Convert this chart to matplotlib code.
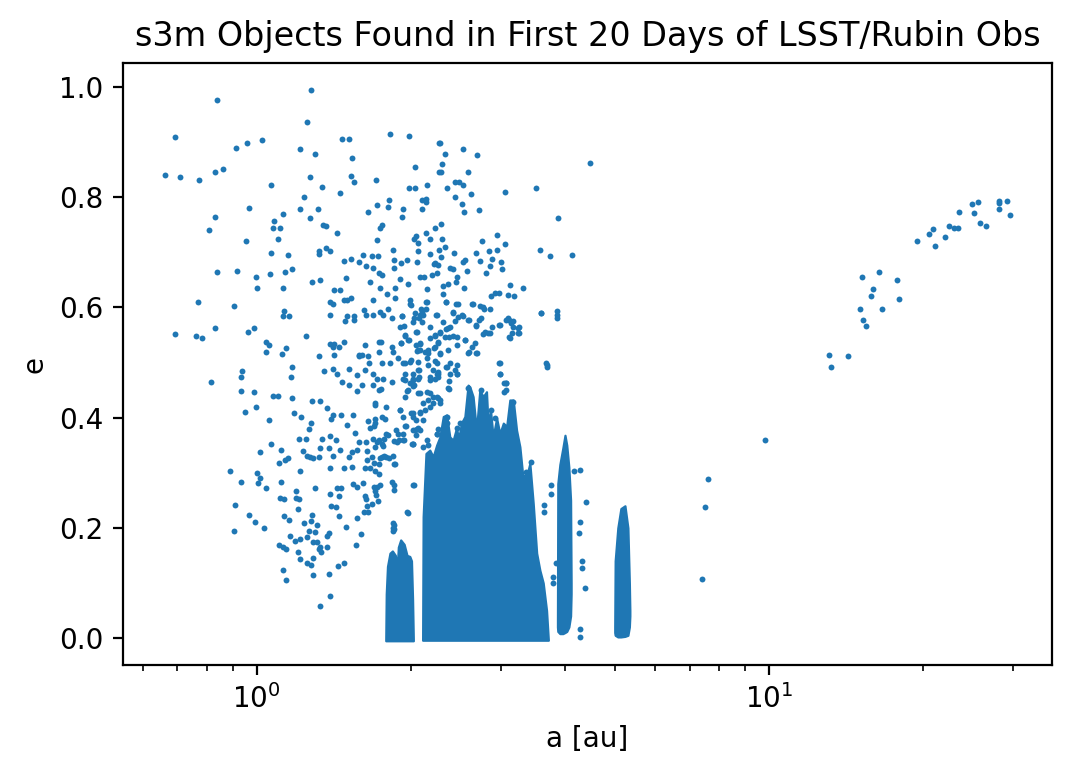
import matplotlib
matplotlib.use("Agg")
import matplotlib.pyplot as plt
import numpy as np

# ── Data (a [au], e) ─────────────────────────────────────────────────────────

# scattered objects: NEOs / Mars-crossers / high-e main belt
inner_pts = [
    (1.275, 0.994), (0.837, 0.976), (0.694, 0.909), (1.254, 0.936), (0.662, 0.840),
    (0.708, 0.836), (0.771, 0.831), (0.829, 0.845), (0.860, 0.852), (0.911, 0.890),
    (0.957, 0.898), (1.024, 0.903), (1.215, 0.887), (1.300, 0.878), (1.467, 0.905),
    (1.515, 0.905), (1.535, 0.871), (1.821, 0.914), (1.985, 0.911), (2.268, 0.898),
    (1.271, 0.836), (1.066, 0.822), (1.528, 0.838), (1.549, 0.827), (1.710, 0.832),
    (1.339, 0.818), (1.237, 0.800), (1.455, 0.807), (1.987, 0.816), (2.040, 0.816),
    (2.151, 0.822), (2.037, 0.854), (0.966, 0.780), (0.829, 0.765), (0.806, 0.740),
    (1.215, 0.778), (1.269, 0.763), (1.318, 0.778), (1.123, 0.769), (1.081, 0.756),
    (1.076, 0.745), (1.111, 0.744), (1.101, 0.724), (0.953, 0.720), (1.066, 0.698),
    (1.151, 0.695), (0.837, 0.664), (0.915, 0.667), (0.997, 0.656), (1.001, 0.636),
    (1.062, 0.660), (1.125, 0.635), (1.135, 0.664), (1.172, 0.669), (0.768, 0.609),
    (0.901, 0.602), (0.694, 0.551), (0.761, 0.549), (0.782, 0.544), (0.829, 0.562),
    (0.962, 0.555), (0.988, 0.562), (1.043, 0.537), (1.057, 0.531), (1.043, 0.519),
    (1.141, 0.526), (1.121, 0.515), (1.248, 0.549), (1.323, 0.511), (1.131, 0.593),
    (1.126, 0.584), (1.156, 0.584), (1.283, 0.646), (1.329, 0.649), (1.323, 0.702),
    (1.323, 0.697), (1.366, 0.707), (1.391, 0.702), (1.347, 0.749), (1.366, 0.747),
    (1.435, 0.735), (1.391, 0.609), (1.409, 0.606), (1.391, 0.586), (1.416, 0.631),
    (1.455, 0.631), (1.494, 0.653), (1.481, 0.685), (1.528, 0.687), (1.584, 0.682),
    (1.611, 0.695), (1.634, 0.676), (1.679, 0.693), (1.725, 0.693), (1.684, 0.671),
    (1.732, 0.662), (1.754, 0.659), (1.845, 0.705), (1.853, 0.686), (1.853, 0.671),
    (1.914, 0.680), (1.965, 0.686), (2.054, 0.682), (2.063, 0.702), (2.184, 0.697),
    (2.228, 0.680), (2.249, 0.662), (2.195, 0.659), (2.122, 0.655), (1.906, 0.651),
    (1.973, 0.642), (1.861, 0.635), (1.717, 0.722), (1.717, 0.786), (1.803, 0.782),
    (1.812, 0.795), (1.650, 0.774), (1.743, 0.745), (1.754, 0.750), (1.932, 0.778),
    (1.923, 0.765), (2.100, 0.778), (2.100, 0.795), (2.136, 0.796), (2.136, 0.791),
    (2.028, 0.725), (2.046, 0.729), (2.175, 0.725), (2.136, 0.735), (2.228, 0.744),
    (1.501, 0.613), (1.481, 0.613), (1.528, 0.617), (1.662, 0.646), (1.743, 0.635),
    (1.684, 0.613), (1.795, 0.624), (1.861, 0.617), (1.993, 0.613), (2.000, 0.604),
    (2.136, 0.609), (1.617, 0.595), (1.634, 0.587), (1.684, 0.586), (1.743, 0.591),
    (1.803, 0.597), (1.764, 0.586), (1.837, 0.580), (1.923, 0.584), (1.941, 0.566),
    (1.949, 0.548), (1.914, 0.535), (2.054, 0.555), (2.028, 0.580), (2.072, 0.580),
    (2.109, 0.587), (2.091, 0.597), (2.239, 0.586), (2.184, 0.544), (2.228, 0.548),
    (2.046, 0.531), (2.082, 0.533), (1.985, 0.540), (1.732, 0.538), (1.750, 0.538),
    (1.625, 0.531), (1.732, 0.520), (1.837, 0.528), (1.845, 0.519), (1.481, 0.537),
    (1.391, 0.533), (1.416, 0.533), (1.409, 0.528), (1.447, 0.528), (1.416, 0.513),
    (1.584, 0.513), (1.604, 0.513), (2.054, 0.521), (2.128, 0.519), (2.218, 0.526),
    (2.260, 0.535), (1.549, 0.584), (1.501, 0.584), (1.488, 0.575), (1.549, 0.577),
    (2.270, 0.846), (2.063, 0.717), (2.310, 0.638),
    (0.813, 0.464), (0.934, 0.484), (0.930, 0.473), (0.930, 0.448), (0.949, 0.411),
    (0.988, 0.446), (0.997, 0.419), (1.076, 0.440), (1.101, 0.440), (1.057, 0.395),
    (1.167, 0.473), (1.172, 0.491), (1.172, 0.435), (1.182, 0.408), (1.220, 0.401),
    (1.283, 0.431), (1.329, 0.430), (1.276, 0.391), (1.265, 0.379), (1.209, 0.362),
    (1.248, 0.362), (1.066, 0.352), (1.116, 0.342), (1.106, 0.317), (1.135, 0.323),
    (1.151, 0.326), (1.015, 0.337), (0.887, 0.304), (0.930, 0.284), (0.907, 0.241),
    (0.966, 0.224), (0.992, 0.210), (1.033, 0.199), (0.901, 0.195), (1.001, 0.299),
    (1.006, 0.281), (1.015, 0.290), (1.043, 0.273), (1.116, 0.283), (1.111, 0.254),
    (1.131, 0.252), (1.131, 0.221), (1.156, 0.214), (1.193, 0.266), (1.193, 0.255),
    (1.209, 0.252), (1.204, 0.235), (1.215, 0.303), (1.300, 0.272), (1.231, 0.339),
    (1.254, 0.330), (1.271, 0.328), (1.288, 0.326), (1.323, 0.328), (1.329, 0.344),
    (1.341, 0.361), (1.384, 0.344), (1.391, 0.366), (1.428, 0.359), (1.391, 0.308),
    (1.409, 0.330), (1.455, 0.342), (1.372, 0.417), (1.397, 0.397), (1.409, 0.404),
    (1.461, 0.404), (1.501, 0.386), (1.542, 0.404), (1.556, 0.372), (1.584, 0.355),
    (1.570, 0.342), (1.535, 0.337), (1.515, 0.328), (1.481, 0.308), (1.535, 0.310),
    (1.642, 0.339), (1.642, 0.323), (1.625, 0.308), (1.679, 0.328), (1.693, 0.317),
    (1.743, 0.326), (1.770, 0.330), (1.812, 0.326), (1.845, 0.330), (1.861, 0.315),
    (1.732, 0.297), (1.662, 0.308), (1.634, 0.355), (1.684, 0.361), (1.717, 0.355),
    (1.764, 0.348), (1.770, 0.361), (1.803, 0.368), (1.870, 0.377), (1.949, 0.384),
    (1.853, 0.357), (1.896, 0.359), (1.941, 0.359), (2.010, 0.353), (2.019, 0.377),
    (2.054, 0.379), (2.082, 0.377), (2.028, 0.277), (1.965, 0.228), (1.650, 0.393),
    (1.662, 0.381), (1.693, 0.384), (1.701, 0.397), (1.701, 0.423), (1.779, 0.397),
    (1.787, 0.420), (1.906, 0.413), (1.932, 0.402), (1.965, 0.448), (1.949, 0.437),
    (1.732, 0.451), (1.684, 0.459), (1.604, 0.459), (1.570, 0.448), (1.515, 0.459),
    (1.467, 0.464), (1.435, 0.479), (1.409, 0.488), (1.354, 0.484), (1.515, 0.488),
    (1.570, 0.477), (1.625, 0.486), (1.655, 0.499), (1.684, 0.480), (1.754, 0.499),
    (1.764, 0.470), (1.837, 0.464), (1.821, 0.500), (1.949, 0.499), (2.000, 0.504),
    (2.019, 0.470), (2.028, 0.460), (2.072, 0.486), (1.584, 0.511), (1.650, 0.511),
    (1.384, 0.117), (1.329, 0.058), (1.391, 0.076), (1.442, 0.130), (1.481, 0.136),
    (1.141, 0.105), (1.126, 0.123), (1.106, 0.168), (1.126, 0.166), (1.141, 0.161),
    (1.161, 0.186), (1.188, 0.177), (1.215, 0.179), (1.204, 0.156), (1.215, 0.143),
    (1.237, 0.208), (1.254, 0.137), (1.276, 0.132), (1.288, 0.114), (1.288, 0.145),
    (1.254, 0.183), (1.265, 0.194), (1.283, 0.223), (1.276, 0.212), (1.311, 0.206),
    (1.300, 0.192), (1.288, 0.174), (1.311, 0.174), (1.323, 0.161), (1.335, 0.157),
    (1.329, 0.166), (1.372, 0.186), (1.384, 0.190), (1.372, 0.165), (1.397, 0.239),
    (1.428, 0.237), (1.447, 0.221), (1.435, 0.272), (1.461, 0.272), (1.447, 0.257),
    (1.391, 0.261), (1.494, 0.201), (1.570, 0.217), (1.563, 0.168), (1.597, 0.188),
    (1.542, 0.279), (1.570, 0.275), (1.611, 0.281), (1.625, 0.257), (1.634, 0.252),
    (1.642, 0.239), (1.617, 0.228), (1.650, 0.228), (1.693, 0.275), (1.701, 0.266),
    (1.710, 0.259), (1.743, 0.277), (1.725, 0.248), (1.837, 0.284), (1.845, 0.208),
    (1.845, 0.199), (1.845, 0.194),
]

# high-e objects around and above the main belt
belt_halo_pts = [
    (2.280, 0.898), (2.332, 0.878), (2.301, 0.861), (2.294, 0.845), (2.526, 0.887),
    (2.690, 0.876), (2.582, 0.845), (2.353, 0.816), (2.441, 0.827), (2.485, 0.827),
    (2.526, 0.823), (2.441, 0.800), (2.620, 0.805), (2.517, 0.787), (2.536, 0.774),
    (2.717, 0.776), (3.056, 0.809), (3.507, 0.816), (3.877, 0.763), (4.474, 0.862),
    (2.288, 0.751), (2.301, 0.725), (2.332, 0.709), (2.271, 0.704), (2.294, 0.691),
    (2.430, 0.698), (2.217, 0.678), (2.260, 0.677), (2.385, 0.671), (2.416, 0.669),
    (2.459, 0.656), (2.448, 0.646), (2.363, 0.642), (2.536, 0.636), (2.526, 0.682),
    (2.547, 0.686), (2.568, 0.667), (2.678, 0.698), (2.754, 0.720), (2.729, 0.684),
    (2.842, 0.702), (2.881, 0.687), (2.945, 0.731), (3.056, 0.716), (2.945, 0.705),
    (2.854, 0.675), (2.803, 0.662), (3.000, 0.682), (3.014, 0.670), (2.920, 0.627),
    (2.971, 0.627), (2.868, 0.620), (3.094, 0.622), (3.178, 0.620), (3.121, 0.640),
    (3.310, 0.635), (3.574, 0.704), (3.736, 0.693), (4.125, 0.695), (3.591, 0.589),
    (3.858, 0.593), (3.858, 0.586), (3.858, 0.580), (3.670, 0.499), (3.684, 0.491),
    (2.971, 0.499), (2.985, 0.480), (3.107, 0.578), (3.134, 0.571), (3.161, 0.575),
    (3.107, 0.546), (3.250, 0.564), (3.250, 0.553), (3.070, 0.578), (2.971, 0.569),
    (2.881, 0.564), (2.778, 0.597), (2.729, 0.602), (2.632, 0.606), (2.717, 0.577),
    (2.765, 0.552), (2.828, 0.553), (2.678, 0.566), (2.594, 0.577), (2.517, 0.586),
    (2.416, 0.591), (2.470, 0.606), (2.311, 0.624), (2.342, 0.609), (2.441, 0.575),
    (2.342, 0.560), (2.374, 0.546), (2.416, 0.548), (2.459, 0.546), (2.547, 0.540),
    (2.594, 0.520), (2.632, 0.528), (2.690, 0.517), (2.260, 0.537), (2.100, 0.591),
    (2.136, 0.598), (2.151, 0.633), (2.082, 0.655), (2.311, 0.573), (2.385, 0.564),
    (2.278, 0.553), (2.228, 0.528), (2.159, 0.517), (2.280, 0.515), (2.385, 0.499),
    (2.353, 0.491), (2.459, 0.495), (2.228, 0.502), (2.207, 0.486), (2.260, 0.480),
    (2.062, 0.522), (1.932, 0.499), (1.949, 0.480), (2.019, 0.480),
    (1.72, 0.471), (1.75, 0.452), (1.70, 0.426), (1.76, 0.402), (1.70, 0.390),
    (1.79, 0.371), (1.73, 0.359), (1.76, 0.353), (1.70, 0.347), (1.79, 0.328),
    (1.73, 0.316), (1.76, 0.328), (1.85, 0.316), (1.70, 0.304), (1.72, 0.274),
    (1.68, 0.244), (1.85, 0.277), (1.85, 0.269), (2.02, 0.277), (1.97, 0.227),
    (1.85, 0.205), (1.85, 0.197), (1.93, 0.470), (1.99, 0.462), (2.02, 0.457),
    (2.07, 0.474), (2.18, 0.474), (2.25, 0.480), (2.38, 0.480), (2.46, 0.480),
    (2.37, 0.467), (2.37, 0.452), (2.08, 0.444), (2.18, 0.444), (2.11, 0.426),
    (2.25, 0.438), (2.28, 0.426), (2.28, 0.432), (2.21, 0.426), (2.00, 0.408),
    (2.02, 0.402), (2.08, 0.408), (2.11, 0.396), (2.04, 0.377), (2.05, 0.368),
    (1.93, 0.371), (1.88, 0.356), (1.93, 0.359), (2.02, 0.353), (2.35, 0.402),
    (2.35, 0.390), (2.31, 0.371), (2.25, 0.371), (2.26, 0.380), (2.53, 0.390),
    (2.15, 0.359), (2.11, 0.347), (3.06, 0.462), (3.06, 0.450),
    (1.99, 0.607), (2.146, 0.610), (2.345, 0.610), (2.445, 0.606), (2.64, 0.606),
    (2.767, 0.601), (2.85, 0.597), (1.923, 0.584), (2.04, 0.589), (2.08, 0.586),
    (2.10, 0.574), (2.02, 0.574), (2.245, 0.586), (2.418, 0.589), (2.47, 0.583),
    (2.53, 0.584), (2.586, 0.577), (2.685, 0.568), (2.745, 0.580), (2.79, 0.556),
    (2.85, 0.553), (2.983, 0.568), (3.095, 0.580), (3.168, 0.565), (3.146, 0.553),
    (3.24, 0.562), (3.24, 0.553), (3.12, 0.544), (3.59, 0.589), (3.68, 0.495),
    (2.983, 0.499), (2.983, 0.480), (3.06, 0.462), (1.90, 0.565), (1.95, 0.550),
    (2.05, 0.556), (2.177, 0.565), (2.23, 0.550), (2.28, 0.556), (2.36, 0.562),
    (2.33, 0.547), (2.55, 0.541), (2.665, 0.535), (1.917, 0.535), (1.97, 0.541),
    (2.08, 0.535), (2.08, 0.523), (2.16, 0.523), (2.28, 0.517), (2.36, 0.523),
    (2.455, 0.532), (2.586, 0.517), (2.685, 0.517), (1.89, 0.508), (1.99, 0.501),
    (2.065, 0.501), (2.146, 0.508), (2.16, 0.495), (2.245, 0.499), (2.26, 0.483),
    (2.345, 0.492), (2.44, 0.486), (2.455, 0.480), (2.065, 0.486), (1.95, 0.468),
    (2.02, 0.468), (2.065, 0.471), (2.177, 0.468), (2.23, 0.471), (2.26, 0.474),
    (1.97, 0.450), (2.065, 0.444), (2.146, 0.447), (2.21, 0.438), (2.26, 0.435),
    (2.16, 0.432), (2.36, 0.453), (1.90, 0.414), (2.02, 0.408), (2.08, 0.411),
    (2.13, 0.414), (2.177, 0.420), (2.05, 0.396), (1.96, 0.384), (2.065, 0.381),
    (1.89, 0.371), (2.02, 0.353), (2.16, 0.350), (2.245, 0.371), (2.455, 0.381),
    (2.49, 0.390), (2.586, 0.453), (2.606, 0.432), (2.745, 0.450), (2.87, 0.414),
    (2.92, 0.399), (3.168, 0.429), (2.345, 0.399),
    (4.16, 0.303), (4.275, 0.305), (4.40, 0.246), (4.275, 0.210), (4.25, 0.190),
    (4.31, 0.140), (4.31, 0.128), (4.37, 0.090), (4.275, 0.017), (4.275, 0.002),
    (3.75, 0.278), (3.76, 0.261), (3.63, 0.241), (3.63, 0.229), (3.84, 0.137),
    (3.78, 0.111), (3.78, 0.099), (3.43, 0.320), (3.36, 0.302), (3.34, 0.293),
    (3.04, 0.463), (3.04, 0.447),
]

# centaurs / outer objects
outer_pts = [
    (7.41, 0.107), (7.49, 0.237), (7.62, 0.288), (9.84, 0.359), (13.11, 0.513),
    (13.23, 0.491), (14.26, 0.511), (15.09, 0.598), (15.22, 0.655), (15.28, 0.578),
    (15.49, 0.566), (15.84, 0.620), (15.99, 0.633), (16.43, 0.664), (16.66, 0.597),
    (17.80, 0.649), (17.95, 0.615), (19.45, 0.720), (20.54, 0.734), (20.91, 0.742),
    (21.10, 0.711), (22.10, 0.727), (22.50, 0.747), (22.94, 0.744), (23.39, 0.745),
    (23.50, 0.773), (24.93, 0.787), (25.16, 0.771), (25.62, 0.791), (25.85, 0.754),
    (26.57, 0.747), (28.20, 0.793), (28.20, 0.789), (28.20, 0.778), (29.20, 0.793),
    (29.60, 0.767),
]

# densely packed groups: outline of the solid mass of points
belt_a = [2.108, 2.113, 2.14, 2.177, 2.21, 2.245, 2.278, 2.313, 2.348, 2.382,
          2.418, 2.455, 2.468, 2.477, 2.488, 2.51, 2.549, 2.586, 2.606, 2.645,
          2.685, 2.726, 2.767, 2.809, 2.825, 2.834, 2.845, 2.86, 2.894, 2.94,
          2.983, 3.03, 3.076, 3.12, 3.168, 3.216, 3.264, 3.313, 3.364, 3.414,
          3.466, 3.52, 3.571, 3.625, 3.68, 3.71]
belt_top = [-0.004, 0.22, 0.335, 0.341, 0.329, 0.350, 0.365, 0.402, 0.405, 0.365,
            0.359, 0.381, 0.37, 0.293, 0.37, 0.390, 0.402, 0.459, 0.456, 0.438,
            0.377, 0.450, 0.438, 0.447, 0.40, 0.336, 0.40, 0.414, 0.365, 0.399,
            0.371, 0.390, 0.384, 0.432, 0.432, 0.377, 0.347, 0.287, 0.293, 0.317,
            0.244, 0.154, 0.123, 0.10, 0.05, -0.004]
belt_bottom = -0.004

hung_a = [1.786, 1.79, 1.80, 1.82, 1.84, 1.865, 1.88, 1.89, 1.91, 1.94,
          1.965, 1.99, 2.005, 2.015, 2.022]
hung_top = [-0.005, 0.08, 0.13, 0.154, 0.158, 0.15, 0.125, 0.165, 0.178, 0.17,
            0.15, 0.148, 0.14, 0.07, -0.005]
hung_bottom = -0.005

hilda_a = [3.865, 3.871, 3.907, 3.96, 3.998, 4.03, 4.068, 4.10, 4.11]
hilda_hi = [0.03, 0.28, 0.315, 0.345, 0.368, 0.35, 0.31, 0.25, 0.10]
hilda_lo = [0.02, 0.012, 0.008, 0.008, 0.01, 0.012, 0.02, 0.04, 0.08]

trojan_a = [5.0, 5.01, 5.07, 5.14, 5.235, 5.305, 5.34, 5.352]
trojan_hi = [0.02, 0.14, 0.20, 0.235, 0.24, 0.20, 0.10, 0.05]
trojan_lo = [0.01, 0.005, 0.002, 0.002, 0.003, 0.005, 0.02, 0.04]

COLOR = "#1f77b4"

# ── Plot ──────────────────────────────────────────────────────────────────────

fig = plt.figure(figsize=(5.36, 3.875), dpi=200)
ax = fig.add_axes([0.1147, 0.1419, 0.8666, 0.7768])

pts = np.array(inner_pts + belt_halo_pts + outer_pts)
ax.scatter(pts[:, 0], pts[:, 1], s=4.5, color=COLOR, linewidths=0)

for xs, lo, hi in [(belt_a, belt_bottom, belt_top),
                   (hung_a, hung_bottom, hung_top),
                   (hilda_a, hilda_lo, hilda_hi),
                   (trojan_a, trojan_lo, trojan_hi)]:
    ax.fill_between(xs, lo, hi, facecolor=COLOR, edgecolor=COLOR,
                    linewidth=0.8, joinstyle="round")

ax.set_xscale("log")
ax.set_xlim(0.548, 35.7)
ax.set_ylim(-0.049, 1.0436)
ax.set_xlabel("a [au]")
ax.set_ylabel("e")
ax.set_title("s3m Objects Found in First 20 Days of LSST/Rubin Obs")

fig.savefig("out.png", dpi=200)
